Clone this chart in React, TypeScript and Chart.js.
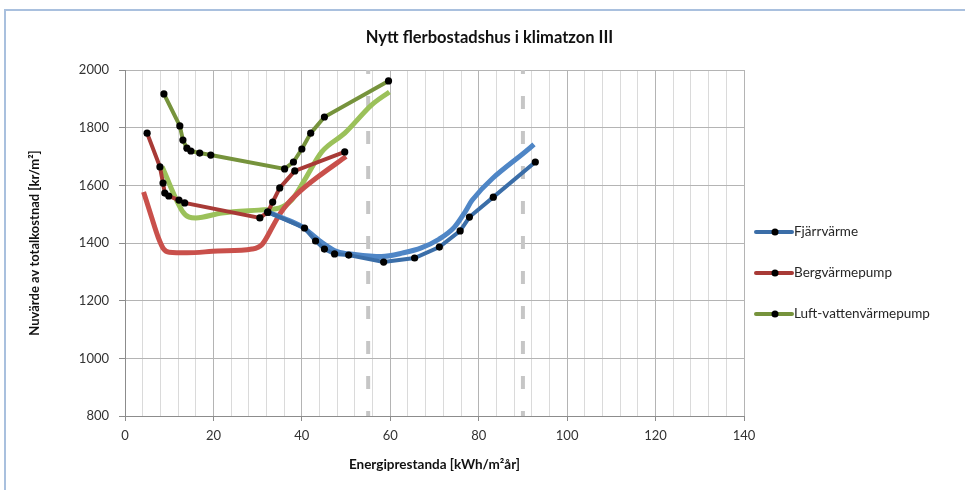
import React, { useEffect, useRef } from "react";
import { Chart, registerables } from "chart.js";

Chart.register(...registerables);

// ---- Data ----
const xTickMin = 0;
const xTickMax = 140;
const yTickMin = 800;
const yTickMax = 2000;

const chartTitle = "Nytt flerbostadshus i klimatzon III";

// Fjärrvärme (markers)
const fjarrX = [32.3, 40.6, 43.1, 45.1, 47.4, 50.6, 58.5, 65.5, 71.1, 75.8, 77.9, 83.3, 92.8];
const fjarrY = [1507, 1452, 1407, 1379, 1362, 1358, 1334, 1348, 1386, 1442, 1490, 1559, 1681];
// Fjärrvärme (light, no markers)
const fjarrLX = [31.5, 36, 40, 44, 48, 52, 58, 63, 67, 71, 74.5, 77, 78.5, 92.5];
const fjarrLY = [1512, 1485, 1457, 1408, 1370, 1360, 1353, 1366, 1383, 1413, 1455, 1510, 1548, 1742];

// Bergvärmepump (markers)
const bergX = [5.0, 7.9, 8.6, 9.0, 9.9, 12.2, 13.5, 30.5, 32.3, 33.4, 35.0, 38.4, 49.7];
const bergY = [1781, 1664, 1608, 1573, 1563, 1549, 1539, 1487, 1507, 1542, 1591, 1650, 1716];
// Bergvärmepump (light)
const bergLX = [4.2, 6, 7.5, 8.7, 10, 14, 21, 28.7, 31, 33.5, 35, 37, 40, 43.5, 50];
const bergLY = [1577, 1490, 1420, 1380, 1368, 1366, 1372, 1379, 1395, 1460, 1500, 1540, 1585, 1628, 1700];

// Luft-vattenvärmepump (markers)
const luftX = [8.8, 12.4, 13.1, 14.0, 14.9, 16.9, 19.4, 36.1, 38.1, 40.0, 42.0, 45.1, 59.6];
const luftY = [1917, 1806, 1757, 1729, 1719, 1712, 1705, 1657, 1681, 1726, 1781, 1837, 1962];
// Luft-vattenvärmepump (light)
const luftLX = [8.4, 13, 14.5, 16, 21.9, 30.2, 34.8, 37.7, 40.6, 44.5, 49.7, 55.8, 59.8];
const luftLY = [1664, 1510, 1490, 1487, 1504, 1514, 1521, 1549, 1618, 1716, 1781, 1879, 1924];

// Reference dashed verticals
const refLinesX = [55, 90];

const seriesLabels = ["Fjärrvärme", "Bergvärmepump", "Luft-vattenvärmepump"];

const FONT = "Lato, 'Open Sans', sans-serif";

const pts = (xs: number[], ys: number[]) => xs.map((x, i) => ({ x, y: ys[i] }));

const legendPlugin = {
  id: "sideLegend",
  afterDraw(chart: any) {
    const { ctx, chartArea } = chart;
    // title, centred over the full canvas
    ctx.save();
    ctx.fillStyle = "#111";
    ctx.font = `bold 16.5px ${FONT}`;
    ctx.textAlign = "center";
    ctx.textBaseline = "middle";
    ctx.fillText(chartTitle, chart.width / 2 + 7, 38);
    ctx.restore();

    const items = chart.data.datasets.filter((d: any) => d.legendItem);
    const x0 = chartArea.right + 12;
    const yStart = chartArea.top + 162;
    items.forEach((d: any, i: number) => {
      const y = yStart + i * 41;
      ctx.save();
      ctx.strokeStyle = d.borderColor;
      ctx.lineWidth = 4;
      ctx.lineCap = "round";
      ctx.beginPath();
      ctx.moveTo(x0, y);
      ctx.lineTo(x0 + 36, y);
      ctx.stroke();
      ctx.fillStyle = "#000";
      ctx.beginPath();
      ctx.arc(x0 + 19, y, 3.5, 0, Math.PI * 2);
      ctx.fill();
      ctx.fillStyle = "#262626";
      ctx.font = `13.5px ${FONT}`;
      ctx.textBaseline = "middle";
      ctx.textAlign = "left";
      ctx.fillText(d.label, x0 + 38, y);
      ctx.restore();
    });
  },
};

export default function App() {
  const ref = useRef<HTMLCanvasElement>(null);

  useEffect(() => {
    const darkBlue = "#3B6EA8";
    const lightBlue = "#4F86C6";
    const darkRed = "#A83A36";
    const lightRed = "#C9504B";
    const darkGreen = "#76933C";
    const lightGreen = "#9BC15A";

    const dark = (label: string, color: string, data: any[]) => ({
      label,
      data,
      borderColor: color,
      backgroundColor: color,
      borderWidth: 4,
      pointRadius: 3.6,
      pointBackgroundColor: "#000",
      pointBorderWidth: 0,
      tension: 0,
      legendItem: true,
    });
    const light = (label: string, color: string, data: any[]) => ({
      label,
      data,
      borderColor: color,
      backgroundColor: color,
      borderWidth: 5,
      pointRadius: 0,
      tension: 0.25,
      cubicInterpolationMode: "monotone",
    });

    const datasets: any[] = [
      dark(seriesLabels[0], darkBlue, pts(fjarrX, fjarrY)),
      dark(seriesLabels[1], darkRed, pts(bergX, bergY)),
      dark(seriesLabels[2], darkGreen, pts(luftX, luftY)),
      light(seriesLabels[0] + " (2)", lightBlue, pts(fjarrLX, fjarrLY)),
      light(seriesLabels[1] + " (2)", lightRed, pts(bergLX, bergLY)),
      light(seriesLabels[2] + " (2)", lightGreen, pts(luftLX, luftLY)),
      ...refLinesX.map((x) => ({
        label: "ref" + x,
        data: [
          { x, y: yTickMin },
          { x, y: yTickMax },
        ],
        borderColor: "#c6c6c6",
        borderWidth: 4,
        borderDash: [13, 22],
        borderDashOffset: 8,
        pointRadius: 0,
      })),
    ];

    const chart = new Chart(ref.current as HTMLCanvasElement, {
      type: "line",
      data: { datasets },
      options: {
        animation: false,
        responsive: false,
        layout: { padding: { left: 0, right: 221, top: 70, bottom: 0 } },
        plugins: {
          legend: { display: false },
          tooltip: { enabled: false },
          title: { display: false },
        },
        scales: {
          x: {
            type: "linear",
            min: xTickMin,
            max: xTickMax,
            afterFit: (s: any) => {
              s.height = 74;
            },
            ticks: {
              stepSize: 4,
              autoSkip: false,
              maxRotation: 0,
              padding: 7,
              color: "#333",
              font: { family: FONT, size: 13 },
              callback: (v: any) => (Number(v) % 20 === 0 ? String(v) : ""),
            },
            grid: {
              color: (c: any) =>
                c.tick && c.tick.value % 20 === 0 ? "#b4b4b4" : "#dadada",
              tickColor: (c: any) =>
                c.tick && c.tick.value % 20 === 0 ? "#8c8c8c" : "rgba(0,0,0,0)",
              tickLength: 5,
            },
            border: { color: "#8c8c8c", width: 1 },
            title: {
              display: true,
              text: "Energiprestanda [kWh/m²år]",
              color: "#111",
              font: { family: FONT, size: 13.5, weight: "bold" },
              padding: { top: 0, bottom: 17 },
            },
          },
          y: {
            type: "linear",
            min: yTickMin,
            max: yTickMax,
            afterFit: (s: any) => {
              s.width = 125;
            },
            ticks: {
              stepSize: 200,
              padding: 10,
              color: "#333",
              font: { family: FONT, size: 13 },
              callback: (v: any) => String(v),
            },
            grid: {
              color: "#b4b4b4",
              tickColor: "#8c8c8c",
              tickLength: 6,
            },
            border: { color: "#8c8c8c", width: 1 },
            title: {
              display: true,
              text: "Nuvärde av totalkostnad [kr/m²]",
              color: "#111",
              font: { family: FONT, size: 13, weight: "bold" },
              padding: { top: 27, bottom: 0 },
            },
          },
        },
      } as any,
      plugins: [legendPlugin],
    });

    return () => chart.destroy();
  }, []);

  return (
    <div
      style={{
        position: "absolute",
        left: 0,
        top: 0,
        width: 965,
        height: 490,
        background: "#fff",
        overflow: "hidden",
      }}
    >
      <div
        style={{
          position: "absolute",
          left: 4,
          top: 9,
          right: -10,
          bottom: -10,
          borderTop: "2px solid #a9c0de",
          borderLeft: "2px solid #a9c0de",
        }}
      />
      <canvas
        ref={ref}
        width={965}
        height={490}
        style={{ position: "absolute", left: 0, top: 0 }}
      />
    </div>
  );
}
